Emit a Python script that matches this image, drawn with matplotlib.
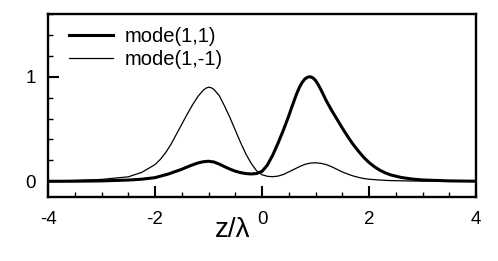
import matplotlib
matplotlib.use("Agg")
import matplotlib.pyplot as plt
from matplotlib.ticker import MultipleLocator

plt.rcParams['font.family'] = ['Liberation Sans', 'DejaVu Sans']
plt.rcParams['axes.unicode_minus'] = False

z_11 = [-4.0, -3.5, -3.0, -2.5, -2.25, -2.0, -1.75, -1.5, -1.4, -1.3, -1.2, -1.1, -1.0,
        -0.9, -0.8, -0.7, -0.6, -0.5, -0.4, -0.3, -0.2, -0.1, 0.0, 0.1, 0.2, 0.3, 0.4,
        0.5, 0.55, 0.6, 0.65, 0.7, 0.75, 0.8, 0.85, 0.9, 0.95, 1.0, 1.05, 1.1, 1.15,
        1.2, 1.3, 1.4, 1.5, 1.6, 1.7, 1.8, 1.9, 2.0, 2.1, 2.2, 2.3, 2.4, 2.6, 2.8,
        3.0, 3.5, 4.0]
mode_1_1 = [0.0, 0.001, 0.004, 0.012, 0.02, 0.035, 0.07, 0.115, 0.137, 0.157, 0.175, 0.187, 0.192,
            0.185, 0.165, 0.14, 0.117, 0.097, 0.083, 0.074, 0.07, 0.075, 0.095, 0.155, 0.25, 0.365, 0.49,
            0.625, 0.7, 0.77, 0.84, 0.9, 0.945, 0.978, 0.995, 1.0, 0.99, 0.965, 0.925, 0.877, 0.825,
            0.772, 0.68, 0.595, 0.51, 0.43, 0.355, 0.29, 0.23, 0.18, 0.14, 0.107, 0.082, 0.062, 0.037, 0.022,
            0.013, 0.004, 0.001]

z_1m1 = [-4.0, -3.5, -3.0, -2.5, -2.25, -2.0, -1.9, -1.8, -1.7, -1.6, -1.5, -1.4, -1.3,
         -1.2, -1.1, -1.05, -1.0, -0.95, -0.9, -0.8, -0.7, -0.6, -0.5, -0.4, -0.3, -0.2,
         -0.1, 0.0, 0.1, 0.2, 0.3, 0.4, 0.5, 0.6, 0.7, 0.8, 0.9, 1.0, 1.1, 1.2, 1.3, 1.4,
         1.5, 1.6, 1.7, 1.8, 1.9, 2.0, 2.2, 2.4, 2.6, 2.8, 3.0, 3.5, 4.0]
mode_1_m1 = [0.003, 0.008, 0.018, 0.043, 0.085, 0.16, 0.21, 0.275, 0.355, 0.45, 0.545, 0.64, 0.73,
             0.81, 0.87, 0.89, 0.9, 0.895, 0.88, 0.82, 0.72, 0.61, 0.49, 0.37, 0.26, 0.17,
             0.1, 0.063, 0.048, 0.044, 0.05, 0.065, 0.09, 0.115, 0.14, 0.162, 0.174, 0.177, 0.172, 0.16, 0.14, 0.115,
             0.09, 0.07, 0.052, 0.038, 0.027, 0.02, 0.012, 0.007, 0.005, 0.003, 0.002, 0.001, 0.0]

labels = ["mode(1,1)", "mode(1,-1)"]

fig = plt.figure(figsize=(4.98, 2.61), dpi=100)
ax = fig.add_axes([48/498, 1-197/261, (476-48)/498, (197-14)/261])

ax.plot(z_11, mode_1_1, color='black', lw=2.2, label=labels[0], solid_joinstyle='round')
ax.plot(z_1m1, mode_1_m1, color='black', lw=0.9, label=labels[1], solid_joinstyle='round')

ax.set_xlim(-4, 4)
ax.set_ylim(-0.15, 1.6)
ax.xaxis.set_major_locator(MultipleLocator(2))
ax.xaxis.set_minor_locator(MultipleLocator(0.5))
ax.yaxis.set_major_locator(MultipleLocator(1))
ax.yaxis.set_minor_locator(MultipleLocator(0.2))

ax.tick_params(which='both', direction='in', top=False, right=False, labelsize=13.5)
ax.tick_params(which='major', length=8, width=1.5)
ax.tick_params(which='minor', length=3.6, width=1.0)
ax.tick_params(axis='x', which='major', pad=10)
ax.tick_params(axis='y', which='major', pad=9)

for s in ax.spines.values():
    s.set_linewidth(1.7)

ax.set_xlabel('z/λ', fontsize=20)
ax.xaxis.set_label_coords((233-48)/428, -0.11)

ax.legend(loc='upper left', bbox_to_anchor=(0.049, 0.93), frameon=False,
          fontsize=14.5, borderpad=0, borderaxespad=0, handlelength=2.2,
          handletextpad=0.55, labelspacing=0.2)

fig.savefig('out.png', dpi=100)
